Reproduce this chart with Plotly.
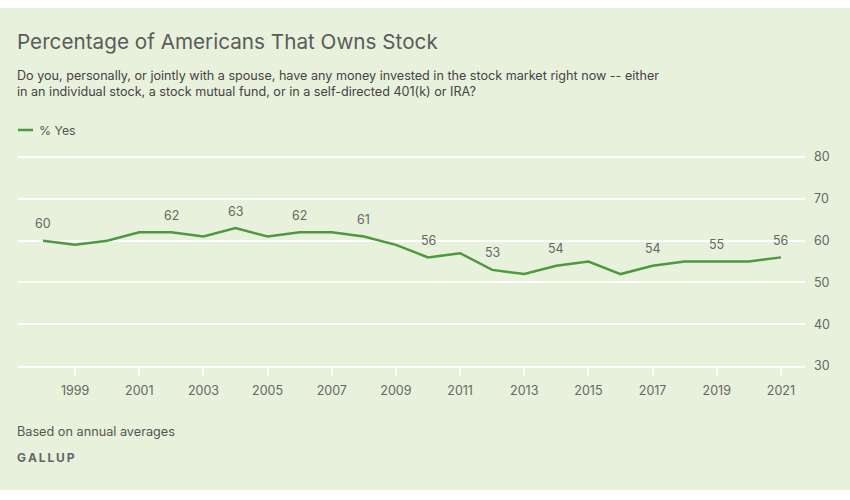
import plotly.graph_objects as go

years = list(range(1998, 2022))
pct_yes = [60, 59, 60, 62, 62, 61, 63, 61, 62, 62, 61, 59, 56, 57, 53, 52, 54, 55, 52, 54, 55, 55, 55, 56]
labeled_years = [1998, 2002, 2004, 2006, 2008, 2010, 2012, 2014, 2017, 2019, 2021]
tick_years = list(range(1999, 2022, 2))
y_ticks = [30, 40, 50, 60, 70, 80]
series_name = "% Yes"

title = "Percentage of Americans That Owns Stock"
subtitle_1 = "Do you, personally, or jointly with a spouse, have any money invested in the stock market right now -- either"
subtitle_2 = "in an individual stock, a stock mutual fund, or in a self-directed 401(k) or IRA?"
note = "Based on annual averages"
source = "G\u2009A\u2009L\u2009L\u2009U\u2009P"

BG = "#e8f1dc"
GREEN = "#4b9b3e"
TXT = "#5b5b5b"
FONT = "Inter"

W, H = 850, 500
L, R, T, B = 18, 45, 155, 134
PW, PH = W - L - R, H - T - B


def px(x):
    return (x - L) / PW


def py(y):
    return (H - B - y) / PH


fig = go.Figure()
fig.add_trace(go.Scatter(
    x=years, y=pct_yes, mode="lines", name=series_name,
    line=dict(color=GREEN, width=2.5), hoverinfo="x+y", showlegend=False,
))

annotations = []
for yr, v in zip(years, pct_yes):
    if yr in labeled_years:
        annotations.append(dict(
            x=yr, y=v, xref="x", yref="y", text=str(v), showarrow=False,
            yshift=17, font=dict(family=FONT, size=12.5, color="#666666"),
        ))

XS = -3


def txt(x, y, text, size, color, **kw):
    return dict(x=px(x), y=py(y), xref="paper", yref="paper", text=text, showarrow=False,
                xanchor="left", yanchor="middle", xshift=XS,
                font=dict(family=FONT, size=size, color=color, **kw))


annotations += [
    txt(18, 42, title, 20.7, TXT),
    txt(18, 75, subtitle_1, 12.6, "#444444"),
    txt(18, 92, subtitle_2, 12.6, "#444444"),
    txt(40, 130, series_name, 12.3, "#555555"),
    txt(18, 431, note, 12.7, "#555555"),
    txt(18, 457, source, 12, "#666666", weight="bold"),
]

fig.update_layout(
    width=W, height=H,
    margin=dict(l=L, r=R, t=T, b=B),
    paper_bgcolor="white",
    plot_bgcolor=BG,
    font=dict(family=FONT, color="#666666", size=13),
    showlegend=False,
    annotations=annotations,
    shapes=[
        dict(type="rect", xref="paper", yref="paper", x0=px(-5), x1=px(860),
             y0=py(490), y1=py(8), fillcolor=BG, line=dict(width=0), layer="below"),
        dict(type="line", xref="paper", yref="paper", x0=px(18), x1=px(33),
             y0=py(130), y1=py(130), line=dict(color=GREEN, width=2.5)),
    ],
    xaxis=dict(
        range=[1997.22, 2021.75], tickvals=tick_years, ticktext=[str(t) for t in tick_years],
        showgrid=False, zeroline=False, showline=True, linecolor="white", linewidth=2,
        ticks="outside", ticklen=8, tickwidth=2, tickcolor="white", ticklabelstandoff=4,
        tickfont=dict(family=FONT, size=12.5, color="#666666"),
    ),
    yaxis=dict(
        range=[30, 80.5], tickvals=y_ticks, side="right", showgrid=True, gridcolor="white",
        gridwidth=2, zeroline=False, showline=False, ticks="", ticklabelstandoff=8,
        tickfont=dict(family=FONT, size=12.5, color="#666666"),
    ),
)

fig.write_html("out.html")
